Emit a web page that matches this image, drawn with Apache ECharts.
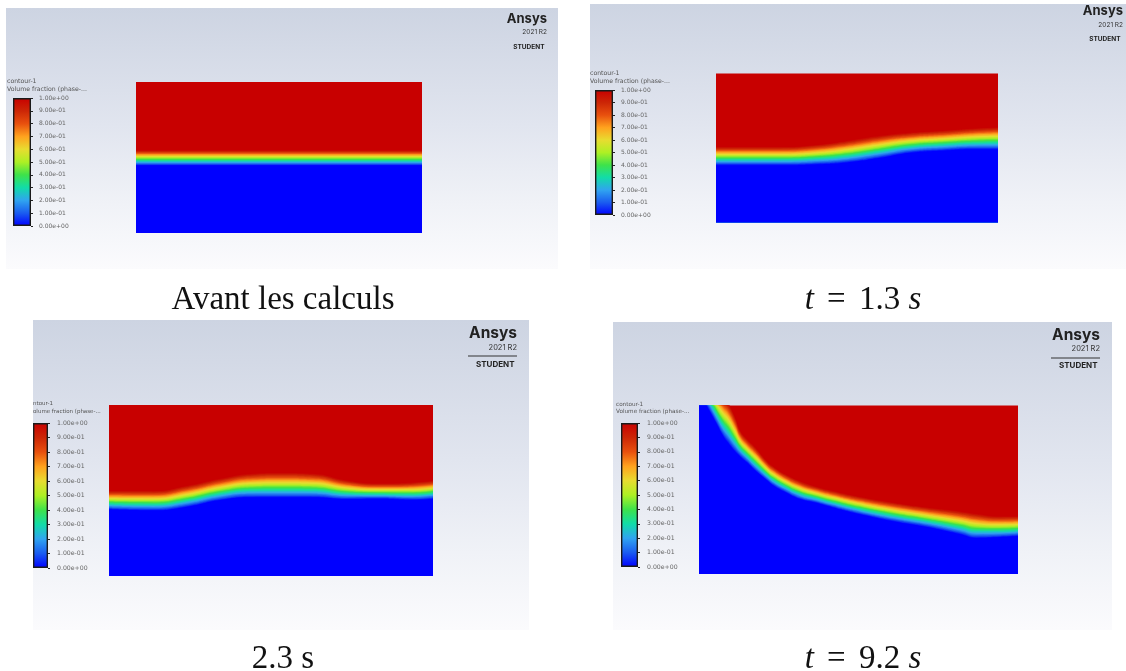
<!DOCTYPE html>
<html><head><meta charset="utf-8">
<style>
html,body{margin:0;padding:0;background:#fff;width:1126px;height:671px;overflow:hidden}
#main,#caps{position:absolute;left:0;top:0;width:1126px;height:671px}
#main{filter:blur(0.65px)}
</style>
<script src="https://cdn.jsdelivr.net/npm/echarts@6/dist/echarts.min.js"></script>
</head><body>
<div id="main"></div><div id="caps"></div>
<script>
// ---- Data (x and heights as fractions of each domain) ----
const xA = [0, 0.25, 0.5, 0.75, 1];
const redA = [0.55, 0.55, 0.55, 0.55, 0.55];
const blueA = [0.448, 0.448, 0.448, 0.448, 0.448];

const xB = [0, 0.12, 0.227, 0.35, 0.465, 0.582, 0.688, 0.812, 0.918, 1];
const redB = [0.51, 0.51, 0.51, 0.523, 0.552, 0.586, 0.606, 0.62, 0.635, 0.642];
const blueB = [0.385, 0.385, 0.385, 0.39, 0.403, 0.434, 0.468, 0.484, 0.492, 0.492];

const xC = [0, 0.136, 0.241, 0.343, 0.444, 0.528, 0.63, 0.735, 0.836, 0.938, 1];
const redC = [0.5, 0.5, 0.53, 0.572, 0.602, 0.607, 0.602, 0.561, 0.543, 0.549, 0.56];
const blueC = [0.39, 0.384, 0.405, 0.444, 0.46, 0.46, 0.46, 0.45, 0.452, 0.446, 0.452];

const xD = [0, 0.028, 0.053, 0.075, 0.091, 0.113, 0.129, 0.15, 0.176, 0.213, 0.232, 0.27, 0.317, 0.364, 0.42, 0.505, 0.614, 0.715, 0.818, 0.871, 0.944, 1];
const redD = [1.28, 1.19, 1.1, 1.05, 1.02, 0.935, 0.855, 0.805, 0.755, 0.672, 0.642, 0.595, 0.553, 0.522, 0.495, 0.46, 0.425, 0.398, 0.375, 0.36, 0.345, 0.345];
const blueD = [1.08, 0.985, 0.9, 0.822, 0.78, 0.728, 0.698, 0.663, 0.615, 0.556, 0.527, 0.487, 0.445, 0.424, 0.395, 0.355, 0.312, 0.279, 0.237, 0.214, 0.219, 0.225];

const tickLabels = ['0.00e+00','1.00e-01','2.00e-01','3.00e-01','4.00e-01','5.00e-01','6.00e-01','7.00e-01','8.00e-01','9.00e-01','1.00e+00'];
const colormap = ['#0000ff','#1a5cf0','#30a4f0','#12dca8','#3ee24a','#aef024','#e8dc30','#ffa21e','#e8500e','#cc2606','#c80000'];
const captions = ['Avant les calculs', '{i|t} {e|=} 1.3 {i|s}', '2.3 s', '{i|t} {e|=} 9.2 {i|s}'];

// ---- Layout ----
const panels = [
 {x:xA,red:redA,blue:blueA,bg:[6,8,552,261],plot:[136,82,286,151],bar:[13,98,18,128],lab:8,fs:6,
  t1:['contour-1',7,81],t2:['Volume fraction (phase-...',7,89],fsT:6.2,
  logo:{r:547,y:[19,32,47],f:[13,6.5,6.5],line:null},cap:[283,298]},
 {x:xB,red:redB,blue:blueB,bg:[590,4,536,265],plot:[716,73.5,282,149],bar:[595,90,18,125],lab:8,fs:6,
  t1:['contour-1',590,73],t2:['Volume fraction (phase-...',590,81],fsT:6.2,
  logo:{r:1123,y:[11,25,39],f:[13,6.5,6.5],line:null},cap:[863,298]},
 {x:xC,red:redC,blue:blueC,bg:[33,320,496,310],plot:[109,405,324,171],bar:[33,423,15,145],lab:9,fs:6.2,
  t1:['ntour-1',33,404],t2:['olume fraction (phase-...',33,412],fsT:5.5,
  logo:{r:517,y:[333,348,365],f:[15.5,7.5,8],line:[468,356]},cap:[283,657]},
 {x:xD,red:redD,blue:blueD,bg:[613,322,499,308],plot:[699,405.5,319,168.5],bar:[621,423,17,144],lab:9,fs:6.2,
  t1:['contour-1',616,405],t2:['Volume fraction (phase-...',616,412],fsT:5.7,
  logo:{r:1100,y:[335,349,366],f:[15.5,7.5,8],line:[1051,358]},cap:[863,657]}
];
const LAYERS = 36;
const grids=[],xAxes=[],yAxes=[],series=[],graphic=[];
const chart = echarts.init(document.getElementById('main'),null,{renderer:'canvas'});

panels.forEach((p,pi)=>{
  graphic.push({type:'rect',z:-10,shape:{x:p.bg[0],y:p.bg[1],width:p.bg[2],height:p.bg[3]},
    style:{fill:new echarts.graphic.LinearGradient(0,0,0,1,[
      {offset:0,color:'#cdd4e2'},{offset:0.45,color:'#e1e5ef'},{offset:0.75,color:'#f0f2f7'},{offset:1,color:'#fbfbfd'}])}});
  const gi = grids.length;
  grids.push({left:p.plot[0],top:p.plot[1],width:p.plot[2],height:p.plot[3],containLabel:false});
  xAxes.push({type:'value',gridIndex:gi,min:0,max:1,show:false});
  yAxes.push({type:'value',gridIndex:gi,min:0,max:1,show:false});
  series.push({type:'line',xAxisIndex:gi,yAxisIndex:gi,silent:true,symbol:'none',lineStyle:{width:0},
    areaStyle:{color:colormap[10],opacity:1,origin:'start'},data:[[0,2],[1,2]]});
  for(let k=LAYERS-1;k>=0;k--){
    const v=k/(LAYERS-1);
    series.push({type:'line',xAxisIndex:gi,yAxisIndex:gi,silent:true,symbol:'none',
      smooth:0.5,lineStyle:{width:0},
      areaStyle:{color:echarts.color.lerp(v,colormap),opacity:1,origin:'start'},
      data:p.x.map((xv,j)=>[xv,p.blue[j]+(p.red[j]-p.blue[j])*v])});
  }
  const ci = grids.length;
  grids.push({left:p.bar[0],top:p.bar[1],width:p.bar[2],height:p.bar[3]});
  xAxes.push({type:'category',gridIndex:ci,data:[''],show:false});
  yAxes.push({type:'value',gridIndex:ci,min:0,max:1,interval:0.1,position:'right',
    axisLine:{show:false},splitLine:{show:false},
    axisTick:{show:true,length:2,lineStyle:{color:'#222',width:1}},
    axisLabel:{show:true,fontSize:p.fs,color:'#666',margin:p.lab,fontFamily:'DejaVu Sans',
      formatter:(val,idx)=>tickLabels[idx]}});
  series.push({type:'bar',xAxisIndex:ci,yAxisIndex:ci,silent:true,barWidth:'100%',data:[1],
    itemStyle:{borderColor:'#1a1a1a',borderWidth:1.4,
      color:new echarts.graphic.LinearGradient(0,1,0,0,colormap.map((c,i)=>({offset:i/10,color:c})))}});
  const txt=(s,x,y,size,opt)=>graphic.push({type:'text',z:5,x:x,y:y,style:Object.assign({text:s,fontSize:size,fill:'#555',
     fontFamily:'DejaVu Sans',verticalAlign:'middle',align:'left'},opt||{})});
  txt(p.t1[0],p.t1[1],p.t1[2],p.fsT);
  txt(p.t2[0],p.t2[1],p.t2[2],p.fsT);
  const L=p.logo;
  txt('Ansys',L.r,L.y[0],L.f[0],{fontFamily:'Inter',fontWeight:700,fill:'#222',align:'right'});
  txt('2021 R2',L.r,L.y[1],L.f[1],{fontFamily:'Inter',fill:'#333',align:'right'});
  txt('STUDENT',L.r-2.5,L.y[2],L.f[2],{fontFamily:'Inter',fontWeight:700,fill:'#222',align:'right'});
  if(L.line) graphic.push({type:'line',z:5,shape:{x1:L.line[0],y1:L.line[1],x2:L.r,y2:L.line[1]},style:{stroke:'#333',lineWidth:1}});
});
chart.setOption({animation:false,backgroundColor:'transparent',grid:grids,xAxis:xAxes,yAxis:yAxes,series:series,graphic:graphic});

const FS=33;
const caps = echarts.init(document.getElementById('caps'),null,{renderer:'canvas'});
caps.setOption({animation:false,backgroundColor:'transparent',
  title:panels.map((p,i)=>({text:captions[i],left:p.cap[0],top:p.cap[1]-15,padding:0,textAlign:'center',
    textStyle:{fontFamily:'Liberation Serif',fontWeight:400,fontSize:FS,color:'#111',lineHeight:34,
      rich:{i:{fontStyle:'italic',fontFamily:'Liberation Serif',fontSize:FS,color:'#111'},
            e:{fontFamily:'Liberation Serif',fontSize:FS,color:'#111',padding:[0,5]}}}}))});
</script>
</body></html>
